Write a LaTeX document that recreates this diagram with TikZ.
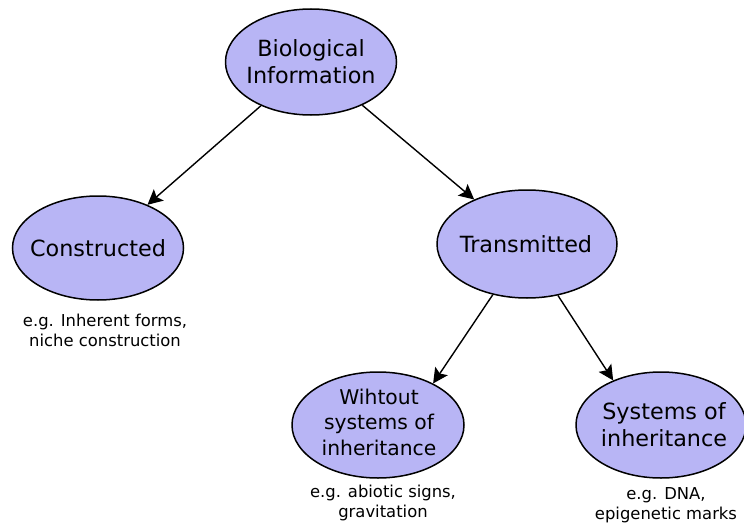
\documentclass[tikz,border=0pt]{standalone}
\usepackage{fontspec}
\setmainfont{DejaVu Sans}
\usetikzlibrary{shapes.geometric,arrows.meta}
\definecolor{lav}{HTML}{B8B5F5}
\tikzset{
  bubble/.style={ellipse, draw=black, line width=1.5pt, fill=lav, inner sep=0pt},
  label text/.style={align=center, font=\fontsize{22.3}{27}\selectfont},
  note/.style={align=center, font=\fontsize{16.4}{20}\selectfont},
  link/.style={line width=1.4pt, -{Stealth[length=15pt,width=15pt,inset=3pt]}}
}
\begin{document}
\begin{tikzpicture}[x=1pt,y=-1pt]
  \useasboundingbox (0,0) rectangle (744,527);
  % concept bubbles (shape first, wording on top)
  \node[bubble, minimum width=171pt, minimum height=106pt] (bio) at (311,62) {};
  \node[bubble, minimum width=171pt, minimum height=104pt] (con) at (98,248) {};
  \node[bubble, minimum width=180pt, minimum height=108pt] (tra) at (527,244) {};
  \node[bubble, minimum width=172pt, minimum height=106pt] (wo) at (378,425) {};
  \node[bubble, minimum width=170pt, minimum height=106pt] (sys) at (661,425) {};
  \node[label text] (bioT) at (bio) {Biological\\Information};
  \node[label text] (conT) at (98,248) {Constructed};
  \node[label text] (traT) at (526,244) {Transmitted};
  \node[label text, font=\fontsize{20.3}{25.5}\selectfont] (woT) at (379,422) {Wihtout\\systems of\\inheritance};
  \node[label text] (sysT) at (664,425) {Systems of\\inheritance};
  % examples under the leaves
  \node[note] (conN) at (105,330) {e.g. Inherent forms,\\niche construction};
  \node[note] (woN) at (383,503) {e.g. abiotic signs,\\gravitation};
  \node[note] (sysN) at (666,505) {e.g. DNA,\\epigenetic marks};
  % hierarchy
  \draw[link] (bio) -- (con);
  \draw[link] (bio) -- (tra);
  \draw[link] (tra.236) -- (wo.37);
  \draw[link] (tra.301) -- (sys.137);
\end{tikzpicture}
\end{document}
